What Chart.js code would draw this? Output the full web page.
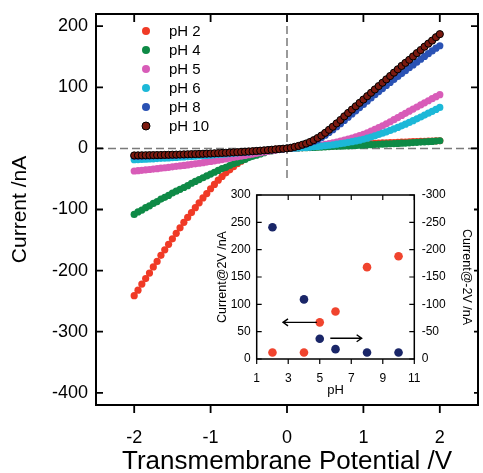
<!DOCTYPE html>
<html>
<head>
<meta charset="utf-8">
<script src="https://cdn.jsdelivr.net/npm/chart.js@4.4.1/dist/chart.umd.min.js"></script>
<style>
  body { margin: 0; background: #fff; }
  #wrap { position: relative; width: 483px; height: 473px; }
  #main { position: absolute; left: 0; top: 0; }
  #inset { position: absolute; left: 212px; top: 181px; }
</style>
</head>
<body>
<div id="wrap">
  <canvas id="main" width="483" height="473"></canvas>
  <canvas id="inset" width="262" height="216"></canvas>
</div>
<script>
// Transmembrane potential (V)
const potential = [-2,-1.95,-1.9,-1.85,-1.8,-1.75,-1.7,-1.65,-1.6,-1.55,-1.5,-1.45,-1.4,-1.35,-1.3,-1.25,-1.2,-1.15,-1.1,-1.05,
  -1,-0.95,-0.9,-0.85,-0.8,-0.75,-0.7,-0.65,-0.6,-0.55,-0.5,-0.45,-0.4,-0.35,-0.3,-0.25,-0.2,-0.15,-0.1,-0.05,
  0,0.05,0.1,0.15,0.2,0.25,0.3,0.35,0.4,0.45,0.5,0.55,0.6,0.65,0.7,0.75,0.8,0.85,0.9,0.95,
  1,1.05,1.1,1.15,1.2,1.25,1.3,1.35,1.4,1.45,1.5,1.55,1.6,1.65,1.7,1.75,1.8,1.85,1.9,1.95,2];

// Current (nA) for each pH
const currentPH2 = [-241,-232,-222,-213,-204,-194,-185,-175,-166,-157,-148,-139,-130,-121,-113,-105,-97,-89,-81,-74,
  -66,-59,-52,-46,-40,-35,-30,-25,-21,-17,-13,-10,-8,-6,-4,-3,-2,-1,-0.5,-0.2,
  0,0.3,0.6,0.9,1.3,1.6,2,2.4,2.8,3.2,3.6,4,4.4,4.8,5.2,5.6,6,6.3,6.7,7,
  7.4,7.7,8,8.3,8.6,8.9,9.2,9.5,9.7,10,10.2,10.5,10.7,11,11.2,11.4,11.7,11.9,12.1,12.3,12.5];
const currentPH4 = [-108,-104,-101,-97,-94,-90,-87,-83,-80,-77,-73,-70,-67,-64,-61,-57,-54,-51,-48,-45,
  -42,-39,-36,-33,-31,-28,-25,-23,-20,-18,-15,-13,-11,-9,-7,-5,-4,-2.5,-1.5,-0.7,
  0,0.2,0.4,0.6,0.9,1.1,1.4,1.6,1.9,2.2,2.5,2.8,3.1,3.4,3.7,4,4.3,4.6,4.9,5.2,
  5.5,5.8,6.1,6.4,6.7,7,7.3,7.6,7.9,8.2,8.5,8.8,9.1,9.5,9.9,10.3,10.7,11.1,11.5,12,12.5];
const currentPH5 = [-37,-36.4,-35.8,-35.1,-34.5,-33.8,-33.1,-32.4,-31.7,-31,-30.2,-29.4,-28.6,-27.8,-27,-26.1,-25.2,-24.3,-23.4,-22.4,
  -21.4,-20.4,-19.3,-18.2,-17.1,-16,-14.9,-13.8,-12.7,-11.5,-10.4,-9.3,-8.1,-7,-5.9,-4.8,-3.8,-2.8,-1.8,-0.9,
  0,0.2,0.5,0.9,1.4,2,2.7,3.5,4.4,5.4,6.5,7.7,9,10.4,11.9,13.5,15.2,17,18.9,20.9,
  23,25.6,28.3,31.1,34,37.1,40.3,43.6,47,50.5,54,57.5,61,64.4,67.8,71.2,74.6,78,81.4,84.7,88];
const currentPH6 = [-18.5,-18.2,-17.9,-17.6,-17.3,-17,-16.6,-16.3,-15.9,-15.6,-15.2,-14.8,-14.4,-14,-13.6,-13.2,-12.8,-12.4,-11.9,-11.5,
  -11,-10.5,-10,-9.5,-9,-8.5,-8,-7.4,-6.9,-6.3,-5.8,-5.2,-4.6,-4,-3.4,-2.8,-2.2,-1.6,-1.1,-0.5,
  0,0.2,0.5,0.8,1.2,1.6,2.1,2.6,3.2,3.8,4.5,5.2,6,6.9,7.8,8.8,9.9,11,12.2,13.5,
  15,16.8,18.7,20.7,22.8,25,27.2,29.5,31.9,34.4,37,39.7,42.5,45.4,48.4,51.4,54.5,57.6,60.7,63.8,67];
const currentPH8 = [-13,-12.8,-12.7,-12.5,-12.3,-12.2,-12,-11.8,-11.6,-11.4,-11.2,-11,-10.8,-10.6,-10.4,-10.2,-10,-9.7,-9.5,-9.3,
  -9,-8.7,-8.4,-8.1,-7.8,-7.5,-7.1,-6.8,-6.4,-6,-5.6,-5.1,-4.6,-4.1,-3.6,-3,-2.4,-1.8,-1.2,-0.6,
  0,0.8,2,3.4,5,7,9.2,11.5,14,17.5,21.5,26,30.5,35.5,40.5,45.7,51,56.3,61.5,66.8,
  72,77.3,82.5,87.8,93,98,103,108,113,117.8,122.5,127.3,132,136.6,141.3,146,150.5,155,159.5,164,168];
const currentPH10 = [-11.5,-11.4,-11.3,-11.2,-11.1,-11,-10.9,-10.8,-10.6,-10.5,-10.3,-10.2,-10,-9.8,-9.6,-9.4,-9.2,-9,-8.8,-8.5,
  -8.3,-8,-7.7,-7.4,-7.1,-6.8,-6.5,-6.1,-5.8,-5.4,-5,-4.6,-4.2,-3.7,-3.2,-2.7,-2.2,-1.6,-1.1,-0.5,
  0,1,2.5,4,6,8,10.5,13.5,17,21,25.5,30.5,35.5,41,46.5,52.5,58,63.5,69,74.5,
  80,85.5,91,96.5,102,107.5,113,118.5,124,129.5,135,140,145,150.5,156,161,166.5,171.5,176.5,182,187];

const seriesLabels = ['pH 2', 'pH 4', 'pH 5', 'pH 6', 'pH 8', 'pH 10'];
const seriesValues = [currentPH2, currentPH4, currentPH5, currentPH6, currentPH8, currentPH10];
const seriesColors = ['#f03a26', '#0e8a46', '#d85cb8', '#1cb8d8', '#2a52b4', '#7c1a10'];

const xTicks = [-2, -1, 0, 1, 2];
const yTicks = [-400, -300, -200, -100, 0, 100, 200];

// inset: current at +2 V and -2 V vs pH
const insetPH = [2, 4, 5, 6, 8, 10];
const currentAtPlus2V = [12, 12, 67, 87, 168, 188];
const currentAtMinus2V = [-241, -109, -37, -18, -12, -12];
const insetXTicks = [1, 3, 5, 7, 9, 11];
const insetYTicks = [0, 50, 100, 150, 200, 250, 300];
const insetY2Ticks = [-300, -250, -200, -150, -100, -50, 0];
// arrows [fromPH, toPH, level on left axis]
const arrowLeft = [4.82, 2.67, 67];
const arrowRight = [5.67, 7.66, 38];

Chart.defaults.font.family = "'Liberation Sans', Arial, sans-serif";
Chart.defaults.color = '#000';

function toPoints(xs, ys) {
  return xs.map((x, i) => ({ x: x, y: ys[i] }));
}

// fixed box size, no label overhang padding
function fixBox(w, h) {
  return s => {
    if (w != null) s.width = w;
    if (h != null) s.height = h;
    s.paddingTop = 0; s.paddingBottom = 0; s.paddingLeft = 0; s.paddingRight = 0;
  };
}

const mainDecor = {
  id: 'mainDecor',
  beforeDatasetsDraw(chart) {
    const { ctx, chartArea: a, scales: { x, y } } = chart;
    ctx.save();
    ctx.strokeStyle = '#7a7a7a';
    ctx.lineWidth = 1.5;
    ctx.setLineDash([8, 4]);
    const y0 = y.getPixelForValue(0);
    ctx.beginPath(); ctx.moveTo(a.left, y0); ctx.lineTo(a.right, y0); ctx.stroke();
    const x0 = x.getPixelForValue(0);
    const insetTop = document.getElementById('inset').offsetTop;
    ctx.beginPath(); ctx.moveTo(x0, a.top); ctx.lineTo(x0, insetTop); ctx.stroke();
    ctx.restore();
  },
  afterDatasetsDraw(chart) {
    const { ctx, chartArea: a, scales: { x, y } } = chart;
    ctx.save();
    ctx.strokeStyle = '#000';
    ctx.lineWidth = 2;
    ctx.strokeRect(a.left, a.top, a.right - a.left, a.bottom - a.top);
    ctx.lineWidth = 1.8;
    ctx.beginPath();
    yTicks.forEach(v => {
      const py = y.getPixelForValue(v);
      ctx.moveTo(a.left, py); ctx.lineTo(a.left + 7, py);
      ctx.moveTo(a.right - 7, py); ctx.lineTo(a.right, py);
    });
    xTicks.forEach(v => {
      const px = x.getPixelForValue(v);
      ctx.moveTo(px, a.top); ctx.lineTo(px, a.top + 8);
      ctx.moveTo(px, a.bottom); ctx.lineTo(px, a.bottom + 8);
    });
    ctx.stroke();

    // legend
    ctx.font = "15px 'Liberation Sans', Arial, sans-serif";
    ctx.textBaseline = 'middle';
    ctx.textAlign = 'left';
    chart.data.datasets.forEach((ds, i) => {
      const ly = 31 + i * 19;
      ctx.beginPath();
      ctx.arc(146, ly, 4, 0, Math.PI * 2);
      ctx.fillStyle = ds.backgroundColor;
      ctx.fill();
      if (ds.borderWidth) { ctx.lineWidth = 1; ctx.strokeStyle = ds.borderColor; ctx.stroke(); }
      ctx.fillStyle = '#000';
      ctx.fillText(ds.label, 169, ly + 1);
    });
    ctx.restore();
  }
};

new Chart(document.getElementById('main'), {
  type: 'scatter',
  data: {
    datasets: seriesValues.map((vals, i) => ({
      label: seriesLabels[i],
      data: toPoints(potential, vals),
      backgroundColor: seriesColors[i],
      borderColor: i === 5 ? '#000' : seriesColors[i],
      borderWidth: i === 5 ? 1 : 0,
      pointRadius: 3.6,
      order: 5 - i
    }))
  },
  options: {
    responsive: false,
    animation: false,
    layout: { padding: { top: 14, right: 1 } },
    plugins: { legend: { display: false }, tooltip: { enabled: false } },
    scales: {
      x: {
        type: 'linear', min: -2.5, max: 2.5,
        afterBuildTicks: s => { s.ticks = xTicks.map(v => ({ value: v })); },
        afterFit: fixBox(null, 68),
        grid: { display: false, drawTicks: false }, border: { display: false },
        ticks: { font: { size: 18 }, padding: 22 },
        title: { display: true, text: 'Transmembrane Potential /V', font: { size: 26, lineHeight: 1 }, padding: { top: 0, bottom: -2 } }
      },
      y: {
        type: 'linear', min: -420, max: 220,
        afterBuildTicks: s => { s.ticks = yTicks.map(v => ({ value: v })); },
        afterFit: fixBox(96, null),
        grid: { display: false, drawTicks: false }, border: { display: false },
        ticks: { font: { size: 18 }, padding: 8 },
        title: { display: true, text: 'Current /nA', font: { size: 21, lineHeight: 1 }, padding: { top: 10, bottom: 0 } }
      }
    }
  },
  plugins: [mainDecor]
});

const insetDecor = {
  id: 'insetDecor',
  beforeDraw(chart) {
    const { ctx, width, height } = chart;
    ctx.save();
    ctx.fillStyle = '#fff';
    ctx.fillRect(12, 0, width - 12, height);
    ctx.restore();
  },
  afterDatasetsDraw(chart) {
    const { ctx, chartArea: a, scales: { x, y } } = chart;
    ctx.save();
    ctx.strokeStyle = '#000';
    ctx.lineWidth = 1.5;
    ctx.strokeRect(a.left, a.top, a.right - a.left, a.bottom - a.top);
    ctx.lineWidth = 1.2;
    ctx.beginPath();
    insetYTicks.forEach(v => {
      const py = y.getPixelForValue(v);
      ctx.moveTo(a.left, py); ctx.lineTo(a.left + 5, py);
      ctx.moveTo(a.right - 5, py); ctx.lineTo(a.right, py);
    });
    insetXTicks.forEach(v => {
      const px = x.getPixelForValue(v);
      ctx.moveTo(px, a.top); ctx.lineTo(px, a.top + 5);
      ctx.moveTo(px, a.bottom); ctx.lineTo(px, a.bottom + 5);
    });
    ctx.stroke();

    // arrows
    ctx.lineWidth = 1.4;
    [arrowLeft, arrowRight].forEach(([from, to, lvl]) => {
      const x1 = x.getPixelForValue(from), x2 = x.getPixelForValue(to);
      const py = y.getPixelForValue(lvl);
      const dir = x2 > x1 ? 1 : -1;
      ctx.beginPath();
      ctx.moveTo(x1, py); ctx.lineTo(x2, py);
      ctx.moveTo(x2 - dir * 5, py - 3.5); ctx.lineTo(x2, py); ctx.lineTo(x2 - dir * 5, py + 3.5);
      ctx.stroke();
    });
    ctx.restore();
  }
};

new Chart(document.getElementById('inset'), {
  type: 'scatter',
  data: {
    datasets: [
      { label: 'Current@2V', data: toPoints(insetPH, currentAtPlus2V), yAxisID: 'y',
        backgroundColor: '#f0442e', borderWidth: 0, pointRadius: 4.3 },
      { label: 'Current@-2V', data: toPoints(insetPH, currentAtMinus2V), yAxisID: 'y2',
        backgroundColor: '#1a2668', borderWidth: 0, pointRadius: 4.3 }
    ]
  },
  options: {
    responsive: false,
    animation: false,
    layout: { padding: { top: 14 } },
    plugins: { legend: { display: false }, tooltip: { enabled: false } },
    scales: {
      x: {
        type: 'linear', min: 1, max: 11,
        afterBuildTicks: s => { s.ticks = insetXTicks.map(v => ({ value: v })); },
        afterFit: fixBox(null, 38),
        grid: { display: false, drawTicks: false }, border: { display: false },
        ticks: { font: { size: 12 }, padding: 12 },
        title: { display: true, text: 'pH', font: { size: 13, lineHeight: 1 }, padding: 0 }
      },
      y: {
        type: 'linear', position: 'left', min: 0, max: 300,
        afterBuildTicks: s => { s.ticks = insetYTicks.map(v => ({ value: v })); },
        afterFit: fixBox(44.7, null),
        grid: { display: false, drawTicks: false }, border: { display: false },
        ticks: { font: { size: 12 }, padding: 6 },
        title: { display: true, text: 'Current@2V /nA', font: { size: 12.5, lineHeight: 1 }, padding: { top: 4.5, bottom: 0 } }
      },
      y2: {
        type: 'linear', position: 'right', min: -300, max: 0, reverse: true,
        afterBuildTicks: s => { s.ticks = insetY2Ticks.map(v => ({ value: v })); },
        afterFit: fixBox(59.7, null),
        grid: { display: false, drawTicks: false }, border: { display: false },
        ticks: { font: { size: 12 }, padding: 7.4 },
        title: { display: true, text: 'Current@-2V /nA', font: { size: 12.5, lineHeight: 1 }, padding: { top: 0.8, bottom: 0 } }
      }
    }
  },
  plugins: [insetDecor]
});
</script>
</body>
</html>
